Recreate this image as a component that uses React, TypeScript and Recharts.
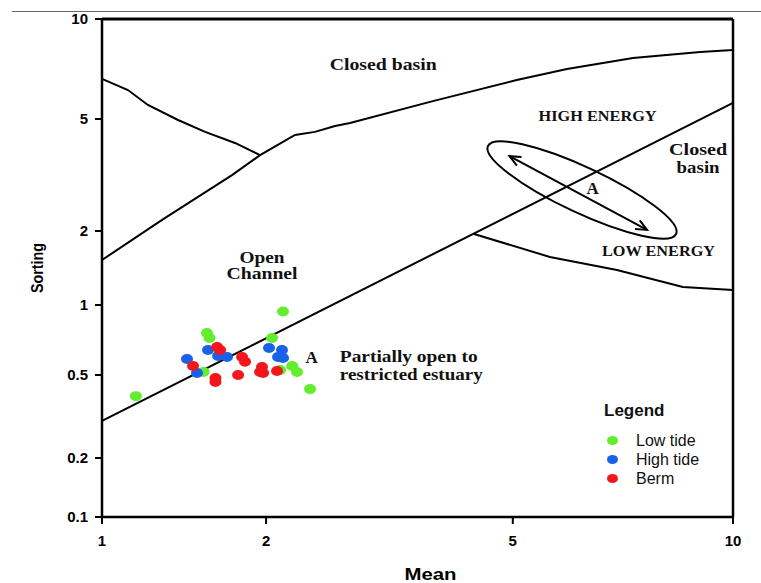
import React from "react";
import {
  ScatterChart,
  Scatter,
  XAxis,
  YAxis,
  ReferenceLine,
  ReferenceDot,
  Legend,
  Label,
} from "recharts";

// axis ticks as printed
const X_TICKS = [1, 2, 5, 10];
const Y_TICKS = [0.1, 0.2, 0.5, 1, 2, 5, 10];
// the printed axes are not evenly logarithmic, so each tick keeps its own place
// along the axis (0 = start, 1 = end) and values are log-interpolated between ticks
const X_TICK_AT = [0, 0.26, 0.651, 1];
const Y_TICK_AT = [0, 0.1185, 0.2851, 0.4257, 0.5743, 0.7992, 1];

// samples: [mean, sorting]
const LOW_TIDE: [number, number][] = [
  [1.154, 0.396], [1.558, 0.758], [1.575, 0.721], [1.536, 0.515], [2.045, 0.721],
  [2.13, 0.938], [2.203, 0.547], [2.244, 0.515], [2.355, 0.428], [2.107, 0.525],
];
const HIGH_TIDE: [number, number][] = [
  [1.432, 0.586], [1.494, 0.51], [1.565, 0.64], [1.633, 0.604], [1.696, 0.598],
  [2.022, 0.653], [2.122, 0.64], [2.091, 0.598], [2.13, 0.592],
];
const BERM: [number, number][] = [
  [1.469, 0.547], [1.626, 0.66], [1.647, 0.64], [1.615, 0.484], [1.615, 0.463],
  [1.777, 0.5], [1.807, 0.598], [1.83, 0.57], [1.966, 0.541], [1.95, 0.515],
  [1.975, 0.51], [2.083, 0.52],
];

// environment boundaries: [mean, sorting]
const CLOSED_BASIN_EDGE: [number, number][] = [
  [1.0, 6.6], [1.116, 6.11], [1.214, 5.51], [1.379, 4.96], [1.546, 4.5],
  [1.754, 4.11], [1.95, 3.72],
];
const OPEN_CHANNEL_TOP: [number, number][] = [
  [1.0, 1.524], [1.289, 2.19], [1.732, 3.16], [1.95, 3.72], [2.227, 4.39],
  [2.398, 4.5], [2.584, 4.72], [2.732, 4.84], [3.716, 5.66], [5.063, 6.55],
  [5.93, 7.07], [7.3, 7.63], [9.02, 7.96], [10, 8.07],
];
const ESTUARY_TOP: [number, number][] = [
  [1.0, 0.301], [10, 5.59],
];
const LOW_ENERGY_EDGE: [number, number][] = [
  [4.33, 1.945], [5.62, 1.568], [6.94, 1.388], [8.54, 1.184], [10, 1.151],
];
// trend "A": ellipse major axis ends and double arrow ends
const ELLIPSE_AXIS: [number, number][] = [[4.56, 4.01], [8.36, 1.944]];
const ARROW_ENDS: [number, number][] = [[4.94, 3.69], [7.63, 2.017]];

const NOTES = [
  { lines: ["Closed basin"], at: [3.09, 7.32] },
  { lines: ["HIGH ENERGY"], at: [6.53, 5.105] },
  { lines: ["Closed", "basin"], at: [8.96, 3.62] },
  { lines: ["A"], at: [6.43, 2.84] },
  { lines: ["LOW ENERGY"], at: [7.91, 1.66] },
  { lines: ["Open", "Channel"], at: [1.966, 1.454] },
  { lines: ["A"], at: [2.37, 0.592] },
  { lines: ["Partially open to", "restricted estuary"], at: [2.63, 0.552] },
];
const NOTE_STYLE = [
  { size: 16, widths: [107], gap: 0, anchor: "middle" },
  { size: 14, widths: [118], gap: 0, anchor: "middle" },
  { size: 16, widths: [58, 43], gap: 18, anchor: "middle" },
  { size: 17, widths: [0], gap: 0, anchor: "middle" },
  { size: 15, widths: [113], gap: 0, anchor: "middle" },
  { size: 16, widths: [45, 71], gap: 16, anchor: "middle" },
  { size: 17, widths: [0], gap: 0, anchor: "middle" },
  { size: 17, widths: [138, 143], gap: 18, anchor: "start" },
];

const SERIES = [
  { name: "Low tide", color: "#62ee2e", data: LOW_TIDE },
  { name: "High tide", color: "#1762e6", data: HIGH_TIDE },
  { name: "Berm", color: "#f2171c", data: BERM },
];

const SANS = '"Liberation Sans", Arial, sans-serif';
const SERIF = '"Liberation Serif", "Times New Roman", serif';

function warp(v: number, ticks: number[], at: number[]) {
  let i = 0;
  while (i < ticks.length - 2 && v > ticks[i + 1]) i++;
  const t = Math.log(v / ticks[i]) / Math.log(ticks[i + 1] / ticks[i]);
  return at[i] + t * (at[i + 1] - at[i]);
}
const wx = (m: number) => warp(m, X_TICKS, X_TICK_AT);
const wy = (s: number) => warp(s, Y_TICKS, Y_TICK_AT);
const toXY = (pts: [number, number][]) => pts.map(([m, s]) => ({ x: wx(m), y: wy(s) }));

const tickText = (ticks: number[], at: number[]) => (v: number) => {
  const i = at.findIndex((a) => Math.abs(a - v) < 1e-6);
  return i >= 0 ? String(ticks[i]) : "";
};

const Dot = (p: any) => <ellipse cx={p.cx} cy={p.cy} rx={6} ry={5} fill={p.fill} />;
const NoDot = () => <g />;

const ellipseShape = (p: any) => {
  const { x1, y1, x2, y2 } = p;
  const cx = (x1 + x2) / 2;
  const cy = (y1 + y2) / 2;
  const rx = Math.hypot(x2 - x1, y2 - y1) / 2;
  const deg = (Math.atan2(y2 - y1, x2 - x1) * 180) / Math.PI;
  return (
    <ellipse cx={cx} cy={cy} rx={rx} ry={rx * 0.22} transform={`rotate(${deg} ${cx} ${cy})`}
      fill="none" stroke="#000" strokeWidth={2} />
  );
};

const arrowShape = (p: any) => {
  const { x1, y1, x2, y2 } = p;
  const a = Math.atan2(y2 - y1, x2 - x1);
  const head = (x: number, y: number, ang: number) => {
    const L = 12, w = 0.42;
    return `M${x - L * Math.cos(ang - w)},${y - L * Math.sin(ang - w)} L${x},${y} L${x - L * Math.cos(ang + w)},${y - L * Math.sin(ang + w)}`;
  };
  return (
    <g stroke="#000" strokeWidth={2} fill="none">
      <line x1={x1} y1={y1} x2={x2} y2={y2} />
      <path d={head(x2, y2, a)} />
      <path d={head(x1, y1, a + Math.PI)} />
    </g>
  );
};

const noteShape = (idx: number) => (p: any) => {
  const note = NOTES[idx];
  const st = NOTE_STYLE[idx];
  const n = note.lines.length;
  return (
    <text fontFamily={SERIF} fontWeight={700} fontSize={st.size} fill="#111" textAnchor={st.anchor as any}>
      {note.lines.map((line, i) => (
        <tspan key={i} x={p.cx} y={p.cy + (i - (n - 1) / 2) * st.gap} dominantBaseline="central"
          {...(st.widths[i] ? { textLength: st.widths[i], lengthAdjust: "spacingAndGlyphs" } : {})}>
          {line}
        </tspan>
      ))}
    </text>
  );
};

const MeanLabel = (p: any) => {
  const vb = p.viewBox;
  return (
    <text x={vb.x + vb.width / 2 + 13} y={vb.y + 63} textAnchor="middle" fontFamily={SANS}
      fontWeight={700} fontSize={16} fill="#000" textLength={52} lengthAdjust="spacingAndGlyphs">
      Mean
    </text>
  );
};

const SortingLabel = (p: any) => {
  const vb = p.viewBox;
  const x = vb.x + 37;
  const y = vb.y + vb.height / 2;
  return (
    <text x={x} y={y} transform={`rotate(-90 ${x} ${y})`} textAnchor="middle" dominantBaseline="central"
      fontFamily={SANS} fontWeight={700} fontSize={16} fill="#000" textLength={50} lengthAdjust="spacingAndGlyphs">
      Sorting
    </text>
  );
};

const LegendBox = () => (
  <div style={{ fontFamily: SANS, color: "#111" }}>
    <div style={{ fontWeight: 700, fontSize: 17, lineHeight: "20px", marginBottom: 10 }}>Legend</div>
    {SERIES.map((s) => (
      <div key={s.name} style={{ display: "flex", alignItems: "center", height: 19, fontSize: 16 }}>
        <span style={{ display: "inline-block", width: 11, height: 9, borderRadius: "50%",
          background: s.color, marginLeft: 3, marginRight: 18 }} />
        <span>{s.name}</span>
      </div>
    ))}
  </div>
);

const axisTick = { fill: "#000", fontSize: 15, fontWeight: 700, fontFamily: SANS };

export default function App() {
  return (
    <div style={{ position: "absolute", left: 0, top: 0, width: 761, height: 583, background: "#fff", overflow: "hidden" }}>
      <div style={{ position: "absolute", left: 12, right: 0, top: 11, borderTop: "1.5px solid #6a6a6a" }} />
      <ScatterChart width={761} height={583} margin={{ top: 19, right: 28, bottom: 0, left: 0 }}>
        <XAxis type="number" dataKey="x" domain={[0, 1]} ticks={X_TICK_AT} interval={0}
          tickFormatter={tickText(X_TICKS, X_TICK_AT)} height={66} tickSize={7} tickMargin={11}
          axisLine={{ stroke: "#000", strokeWidth: 2.5 }} tickLine={{ stroke: "#000", strokeWidth: 2 }}
          tick={axisTick}>
          <Label content={MeanLabel} />
        </XAxis>
        <YAxis type="number" dataKey="y" domain={[0, 1]} ticks={Y_TICK_AT} interval={0}
          tickFormatter={tickText(Y_TICKS, Y_TICK_AT)} width={102} tickSize={7} tickMargin={7}
          axisLine={{ stroke: "#000", strokeWidth: 2.5 }} tickLine={{ stroke: "#000", strokeWidth: 2 }}
          tick={axisTick}>
          <Label content={SortingLabel} />
        </YAxis>

        <ReferenceLine y={1} stroke="#000" strokeWidth={3} ifOverflow="visible" />
        <ReferenceLine x={1} stroke="#000" strokeWidth={2.5} ifOverflow="visible" />

        {[CLOSED_BASIN_EDGE, OPEN_CHANNEL_TOP, ESTUARY_TOP, LOW_ENERGY_EDGE].map((b, i) => (
          <Scatter key={i} data={toXY(b)} line={{ stroke: "#000", strokeWidth: 2 }} shape={NoDot}
            legendType="none" isAnimationActive={false} />
        ))}

        <ReferenceLine
          segment={[
            { x: wx(ELLIPSE_AXIS[0][0]), y: wy(ELLIPSE_AXIS[0][1]) },
            { x: wx(ELLIPSE_AXIS[1][0]), y: wy(ELLIPSE_AXIS[1][1]) },
          ]}
          shape={ellipseShape}
          ifOverflow="visible"
        />
        <ReferenceLine
          segment={[
            { x: wx(ARROW_ENDS[0][0]), y: wy(ARROW_ENDS[0][1]) },
            { x: wx(ARROW_ENDS[1][0]), y: wy(ARROW_ENDS[1][1]) },
          ]}
          shape={arrowShape}
          ifOverflow="visible"
        />

        {NOTES.map((n, i) => (
          <ReferenceDot key={`n${i}`} x={wx(n.at[0])} y={wy(n.at[1])} r={0} shape={noteShape(i)} ifOverflow="visible" />
        ))}

        {SERIES.map((s) => (
          <Scatter key={s.name} name={s.name} data={toXY(s.data)} fill={s.color} shape={Dot}
            isAnimationActive={false} />
        ))}

        <Legend layout="vertical" align="center" verticalAlign="middle" content={LegendBox}
          wrapperStyle={{ left: 604, top: 401, width: 140 }} />
      </ScatterChart>
    </div>
  );
}
